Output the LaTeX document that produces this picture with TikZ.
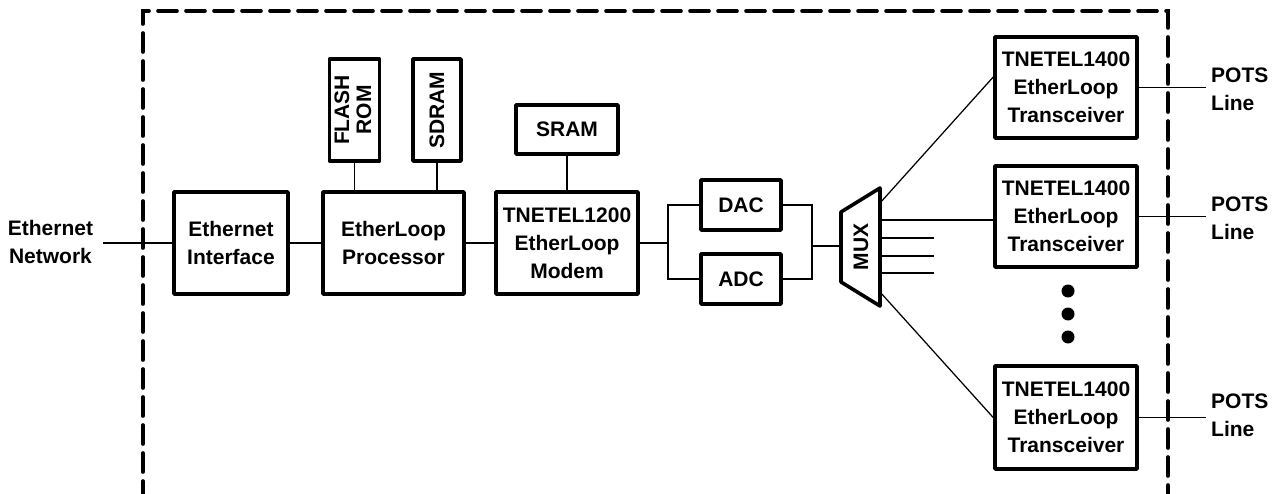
\documentclass[tikz,border=0pt]{standalone}
\usepackage{fontspec}
\setmainfont{Liberation Sans}
\usetikzlibrary{calc}
\begin{document}
\begin{tikzpicture}[x=1pt,y=-1pt,
  txt/.style={font=\bfseries\fontsize{21}{28}\selectfont},
  box/.style={txt, draw, line width=3.6pt, line join=round, inner sep=0pt, align=center},
  lbl/.style={txt, inner sep=0pt},
  wire/.style={line width=1.25pt},
  border/.style={line width=3.6pt, dash pattern=on 19pt off 9pt, line cap=round},
  dot/.style={circle, fill=black, inner sep=0pt, minimum size=13pt}
]
\useasboundingbox (0,0) rectangle (1273,494);
\clip (0,0) rectangle (1273,494);

% dashed enclosure
\draw[border] (143,500) -- (143,11) -- (1168,11) -- (1168,500);

% blocks
\node[box, minimum width=114, minimum height=102] (ethif) at (231,243) {Ethernet\\Interface};
\node[box, minimum width=141, minimum height=102] (proc) at (393.5,243) {EtherLoop\\Processor};
\node[box, minimum width=49, minimum height=102] (flash) at (354.5,110)
  {\rotatebox{90}{\begin{tabular}{@{}c@{}}FLASH\\[-6pt]ROM\end{tabular}}};
\node[box, minimum width=48, minimum height=102] (sdram) at (437,110) {\rotatebox{90}{SDRAM}};
\node[box, minimum width=102, minimum height=49] (sram) at (567,129.5) {SRAM};
\node[box, minimum width=142, minimum height=102] (modem) at (567,243) {TNETEL1200\\EtherLoop\\Modem};
\node[box, minimum width=80, minimum height=50] (dac) at (741,205) {DAC};
\node[box, minimum width=80, minimum height=50] (adc) at (741,279) {ADC};
\node[box, minimum width=142, minimum height=101] (tr1) at (1066,87.5) {TNETEL1400\\EtherLoop\\Transceiver};
\node[box, minimum width=142, minimum height=101] (tr2) at (1066,216.5) {TNETEL1400\\EtherLoop\\Transceiver};
\node[box, minimum width=142, minimum height=103] (tr3) at (1066,417.5) {TNETEL1400\\EtherLoop\\Transceiver};

% MUX
\coordinate (m1) at (841,212);
\coordinate (m2) at (880,188);
\coordinate (m3) at (880,306);
\coordinate (m4) at (841,282);
\draw[line width=3.6pt, line join=round] (m1) -- (m2) -- (m3) -- (m4) -- cycle;
\node[lbl] (mux) at (861,247) {\rotatebox{90}{MUX}};

% external labels
\node[lbl, align=center] (enet) at (50.5,242) {Ethernet\\Network};
\coordinate (enetend) at (103,243);
\coordinate (pend) at (1206,0);
\node[lbl, align=left, anchor=west] (pots1) at (1211,89) {POTS\\Line};
\node[lbl, align=left, anchor=west] (pots2) at (1211,218) {POTS\\Line};
\node[lbl, align=left, anchor=west] (pots3) at (1211,415) {POTS\\Line};

% dots
\node[dot] (d1) at (1068,291) {};
\node[dot] (d2) at (1068,314) {};
\node[dot] (d3) at (1068,337) {};

% connectors
\draw[wire] (enetend) -- (ethif.west);
\draw[wire] (ethif.east) -- (proc.west);
\draw[wire] (flash.south) -- (flash.south |- proc.north);
\draw[wire] (sdram.south) -- (sdram.south |- proc.north);
\draw[wire] (proc.east) -- (modem.west);
\draw[wire] (sram.south) -- (modem.north);
\coordinate (b1) at (668,243);
\draw[wire] (modem.east) -- (b1);
\draw[wire] (dac.west) -| (b1) |- (adc.west);
\coordinate (b2) at (812,246);
\coordinate (muxin) at (841,246);
\draw[wire] (dac.east) -| (b2) |- (adc.east);
\draw[wire] (b2) -- (muxin);

\coordinate (mo1) at (880,203);
\coordinate (mo2) at (880,220);
\coordinate (mo3) at (880,238);
\coordinate (mo4) at (880,256);
\coordinate (mo5) at (880,273);
\coordinate (mo6) at (880,292);
\coordinate (s3) at (934,238);
\coordinate (s4) at (934,256);
\coordinate (s5) at (934,273);
\draw[wire] (mo1) -- ($(tr1.north west)!0.4!(tr1.south west)$);
\draw[wire] (mo2) -- (mo2 -| tr2.west);
\draw[wire] (mo3) -- (s3);
\draw[wire] (mo4) -- (s4);
\draw[wire] (mo5) -- (s5);
\draw[wire] (mo6) -- (tr3.west);

\draw[wire] (tr1.east) -- (tr1.east -| pend);
\draw[wire] (tr2.east) -- (tr2.east -| pend);
\draw[wire] (tr3.east) -- (tr3.east -| pend);
\end{tikzpicture}
\end{document}
